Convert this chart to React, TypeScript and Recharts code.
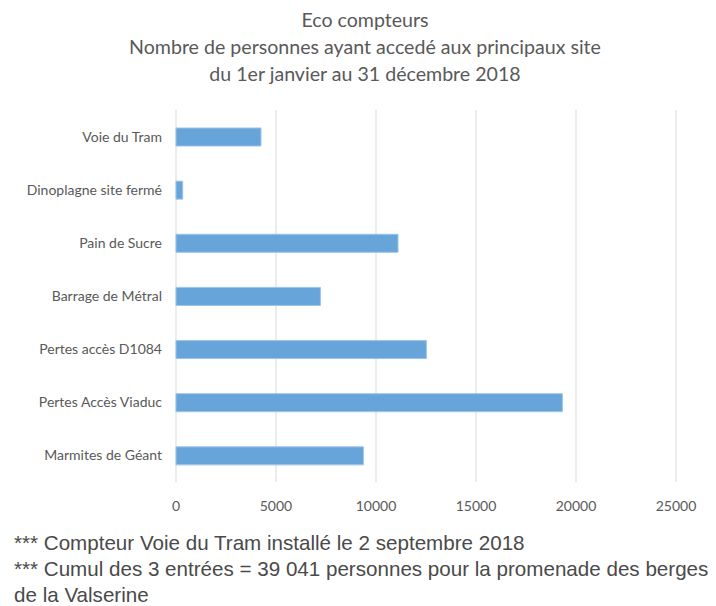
import { BarChart, Bar, XAxis, YAxis, CartesianGrid } from 'recharts'

const sites = [
  'Voie du Tram',
  'Dinoplagne site fermé',
  'Pain de Sucre',
  'Barrage de Métral',
  'Pertes accès D1084',
  'Pertes Accès Viaduc',
  'Marmites de Géant',
]
const visitors = [4250, 335, 11100, 7220, 12520, 19320, 9370]
const xTicks = [0, 5000, 10000, 15000, 20000, 25000]

const titleLines = [
  'Eco compteurs',
  'Nombre de personnes ayant accedé aux principaux site',
  'du 1er janvier au 31 décembre 2018',
]
const noteLines = [
  '*** Compteur Voie du Tram installé le 2 septembre 2018',
  '*** Cumul des 3 entrées = 39 041 personnes pour la promenade des berges',
  'de la Valserine',
]

const chartData = sites.map((name, i) => ({ name, value: visitors[i] }))

export default function App() {
  return (
    <div style={{ position: 'absolute', left: 0, top: 0, width: 716, height: 606, background: '#fff', overflow: 'hidden' }}>
      <div
        style={{
          position: 'absolute',
          top: 6,
          left: 7,
          width: 716,
          textAlign: 'center',
          fontFamily: 'Lato, sans-serif',
          fontSize: 19.6,
          lineHeight: '27px',
          color: '#595959',
        }}
      >
        {titleLines.map((t) => (
          <div key={t}>{t}</div>
        ))}
      </div>
      <div style={{ position: 'absolute', top: 0, left: 0 }}>
        <BarChart
          width={716}
          height={520}
          data={chartData}
          layout="vertical"
          margin={{ top: 110, right: 40, bottom: 8, left: 0 }}
        >
          <CartesianGrid horizontal={false} stroke="#d9d9d9" />
          <XAxis
            type="number"
            domain={[0, 25000]}
            ticks={xTicks}
            axisLine={false}
            tickLine={false}
            tickMargin={13}
            height={30}
            tick={{ fontSize: 14, fill: '#595959', fontFamily: 'Lato, sans-serif' }}
          />
          <YAxis
            type="category"
            dataKey="name"
            width={176}
            axisLine={false}
            tickLine={false}
            tickMargin={8}
            tick={{ fontSize: 14, fill: '#595959', fontFamily: 'Lato, sans-serif' }}
          />
          <Bar dataKey="value" fill="#67a4da" stroke="#9cc4e8" strokeWidth={1} barSize={18} isAnimationActive={false} />
        </BarChart>
      </div>
      <div
        style={{
          position: 'absolute',
          top: 530,
          left: 14,
          fontFamily: '"Liberation Sans", Arial, sans-serif',
          fontSize: 20.6,
          lineHeight: '26px',
          color: '#4a4a4a',
          whiteSpace: 'nowrap',
        }}
      >
        {noteLines.map((t) => (
          <div key={t}>{t}</div>
        ))}
      </div>
    </div>
  )
}
